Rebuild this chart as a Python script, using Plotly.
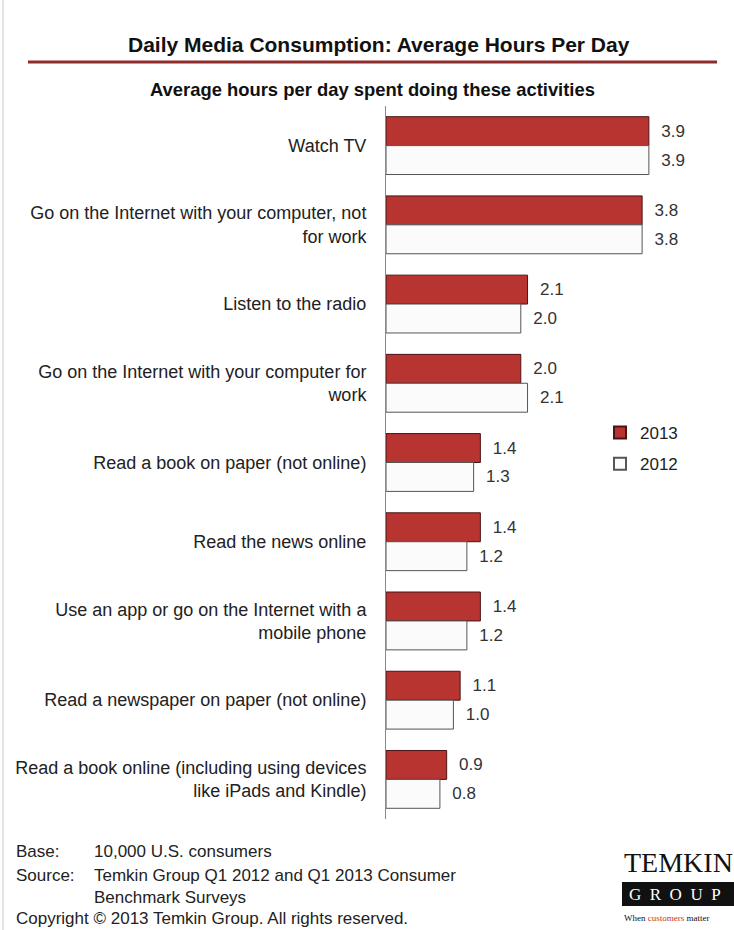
import plotly.graph_objects as go

categories = [
    "Watch TV",
    "Go on the Internet with your computer, not<br>for work",
    "Listen to the radio",
    "Go on the Internet with your computer for<br>work",
    "Read a book on paper (not online)",
    "Read the news online",
    "Use an app or go on the Internet with a<br>mobile phone",
    "Read a newspaper on paper (not online)",
    "Read a book online (including using devices<br>like iPads and Kindle)",
]
values_2013 = [3.9, 3.8, 2.1, 2.0, 1.4, 1.4, 1.4, 1.1, 0.9]
values_2012 = [3.9, 3.8, 2.0, 2.1, 1.3, 1.2, 1.2, 1.0, 0.8]
series_names = ["2013", "2012"]

W, H = 734, 930
FONT = "Liberation Sans, Arial, sans-serif"
SERIF = "Liberation Serif, DejaVu Serif, serif"

def px(x):
    return x / W

def py(y):
    return 1 - y / H

fig = go.Figure()
fig.add_trace(go.Bar(
    name=series_names[0], y=categories, x=values_2013, orientation="h",
    legendgroup="a",
    marker=dict(color="#b73431", line=dict(color="#4a1414", width=1)),
    text=values_2013, texttemplate="\u00a0\u00a0%{x:.1f}", textposition="outside",
    textfont=dict(family=FONT, size=17, color="#333333"), cliponaxis=False,
))
fig.add_trace(go.Bar(
    name=series_names[1], y=categories, x=values_2012, orientation="h",
    legendgroup="b",
    marker=dict(color="#fbfbfb", line=dict(color="#555555", width=1)),
    text=values_2012, texttemplate="\u00a0\u00a0%{x:.1f}", textposition="outside",
    textfont=dict(family=FONT, size=17, color="#333333"), cliponaxis=False,
))

plot_top, plot_bottom = 106, 819
x_left, x_right = 386, 723

fig.update_layout(
    width=W, height=H,
    margin=dict(l=0, r=0, t=0, b=0),
    paper_bgcolor="white", plot_bgcolor="white",
    barmode="group", bargap=0.27, bargroupgap=0,
    font=dict(family=FONT, size=17, color="#222222"),
    showlegend=True,
    legend=dict(x=px(600), y=py(415), xanchor="left", yanchor="top",
                font=dict(family=FONT, size=17, color="#222222"),
                bgcolor="rgba(0,0,0,0)", itemwidth=30, tracegroupgap=6,
                itemsizing="constant"),
    xaxis=dict(domain=[px(x_left), px(x_right)], range=[0, 5.0],
               showgrid=False, zeroline=False, showticklabels=False,
               showline=False, ticks=""),
    yaxis=dict(domain=[py(plot_bottom), py(plot_top)], autorange="reversed",
               showgrid=False, zeroline=False, showline=True,
               linecolor="#8a8a8a", linewidth=1, ticks="",
               ticklabelstandoff=15,
               tickfont=dict(family=FONT, size=18, color="#222222")),
)

# title and subtitle
fig.add_annotation(text="<b>Daily Media Consumption: Average Hours Per Day</b>",
                   x=px(379), y=py(44), xref="paper", yref="paper", yanchor="middle",
                   showarrow=False, font=dict(family=FONT, size=21, color="#111111"))
fig.add_annotation(text="<b>Average hours per day spent doing these activities</b>",
                   x=px(372), y=py(89), xref="paper", yref="paper", yanchor="middle",
                   showarrow=False, font=dict(family=FONT, size=18.4, color="#111111"))
fig.add_shape(type="line", xref="paper", yref="paper",
              x0=px(28), x1=px(717), y0=py(62), y1=py(62),
              line=dict(color="#8e2b2b", width=3))
fig.add_shape(type="line", xref="paper", yref="paper",
              x0=px(3), x1=px(3), y0=0, y1=1,
              line=dict(color="#c8c8c8", width=1))

# footer
foot = dict(xref="paper", yref="paper", showarrow=False, xanchor="left",
            yanchor="middle", font=dict(family=FONT, size=17, color="#222222"))
fig.add_annotation(text="Base:", x=px(14), y=py(851), **foot)
fig.add_annotation(text="10,000 U.S. consumers", x=px(92), y=py(851), **foot)
fig.add_annotation(text="Source:", x=px(14), y=py(875), **foot)
fig.add_annotation(text="Temkin Group Q1 2012 and Q1 2013 Consumer", x=px(92), y=py(875), **foot)
fig.add_annotation(text="Benchmark Surveys", x=px(92), y=py(897), **foot)
fig.add_annotation(text="Copyright \u00a9 2013 Temkin Group. All rights reserved.",
                   x=px(14), y=py(918), **foot)

# logo
fig.add_annotation(text="TEMKIN", x=px(622), y=py(862), xref="paper", yref="paper",
                   showarrow=False, xanchor="left", yanchor="middle",
                   font=dict(family=SERIF, size=28, color="#111111"))
fig.add_shape(type="rect", xref="paper", yref="paper",
              x0=px(622), x1=px(736), y0=py(906), y1=py(882),
              fillcolor="#111111", line=dict(width=0))
fig.add_annotation(text="G  R  O  U  P", x=px(627), y=py(894), xref="paper", yref="paper",
                   showarrow=False, xanchor="left", yanchor="middle",
                   font=dict(family=SERIF, size=17, color="white"))
fig.add_annotation(text="When <span style='color:#c0392b'>customers</span> matter",
                   x=px(622), y=py(918), xref="paper", yref="paper",
                   showarrow=False, xanchor="left", yanchor="middle",
                   font=dict(family=SERIF, size=9, color="#111111"))

fig.write_html("out.html")
